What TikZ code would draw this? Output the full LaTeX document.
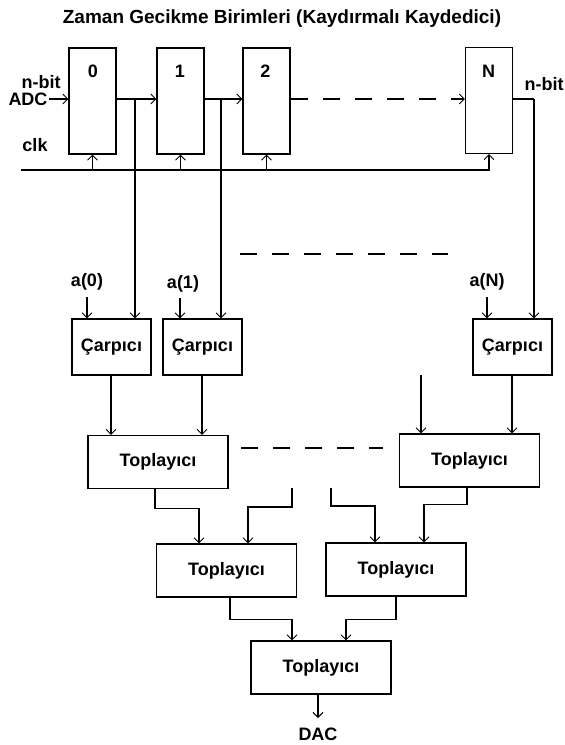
\documentclass[tikz,border=0pt]{standalone}
\usepackage{fontspec}
\setmainfont{Liberation Sans}
\usetikzlibrary{arrows.meta}
\begin{document}
\begin{tikzpicture}[x=1pt,y=-1pt,
  line width=1.2pt,
  arr/.style={-{Straight Barb[length=5pt,width=10pt,line width=0.9pt]}},
  reg/.style={draw,minimum width=47pt,minimum height=106pt,inner sep=0pt},
  mul/.style={draw,minimum width=79pt,minimum height=56pt,inner sep=0pt,font=\fontsize{18}{20}\bfseries\selectfont},
  add/.style={draw,minimum width=140pt,minimum height=53pt,inner sep=0pt,font=\fontsize{18}{20}\bfseries\selectfont},
  lab/.style={inner sep=0pt,anchor=base,font=\fontsize{18}{20}\bfseries\selectfont},
  dsh/.style={dash pattern=on 17pt off 15pt}]
\fill[white] (0,0) rectangle (565,745);
\useasboundingbox (0,0) rectangle (565,745);
% title
\node[lab,font=\fontsize{19}{22}\bfseries\selectfont] (title) at (282,23) {Zaman Gecikme Birimleri (Kaydırmalı Kaydedici)};
% registers
\node[reg] (b0) at (92.5,101) {};
\node[reg] (b1) at (180.5,101) {};
\node[reg] (b2) at (266.5,101) {};
\node[reg] (bN) at (489,100.5) {};
\node[lab] (l0) at (93,77) {0};
\node[lab] (l1) at (180,77) {1};
\node[lab] (l2) at (265.5,77) {2};
\node[lab] (lN) at (488.5,77) {N};
% side labels
\node[lab] (nbit1) at (41,88) {n-bit};
\node[lab] (adc) at (28,105) {ADC};
\node[lab] (clk) at (35,151) {clk};
\node[lab] (nbit2) at (544,90) {n-bit};
% data path
\coordinate (adcend) at (49,99);
\coordinate (tap0) at (135,99);
\coordinate (tap1) at (221,99);
\coordinate (tapN) at (534,99);
\draw[arr] (adcend) -- (b0.west |- adcend);
\draw[arr] (b0.east |- adcend) -- (b1.west |- adcend);
\draw[arr] (b1.east |- adcend) -- (b2.west |- adcend);
\draw[dsh] (b2.east |- adcend) -- ([xshift=-4pt]bN.west |- adcend);
\draw[arr] ([xshift=-8pt]bN.west |- adcend) -- (bN.west |- adcend);
\draw (bN.east |- tapN) -- (tapN);
% clock
\coordinate (clk0) at (21,170);
\draw[arr] (clk0) -| (bN.south);
\draw[arr] (b0.south |- clk0) -- (b0.south);
\draw[arr] (b1.south |- clk0) -- (b1.south);
\draw[arr] (b2.south |- clk0) -- (b2.south);
% multipliers
\node[mul] (m0) at (111.5,347) {Çarpıcı};
\node[mul] (m1) at (202.5,347) {Çarpıcı};
\node[mul] (mN) at (512.5,347) {Çarpıcı};
\draw[arr] (tap0) -- (tap0 |- m0.north);
\draw[arr] (tap1) -- (tap1 |- m1.north);
\draw[arr] (tapN) -- (tapN |- mN.north);
\node[lab] (a0) at (87,286) {a(0)};
\node[lab] (a1) at (183,288) {a(1)};
\node[lab] (aN) at (487,286) {a(N)};
\coordinate (a0s) at (87,297);
\coordinate (a1s) at (180,298);
\coordinate (aNs) at (487,297);
\draw[arr] (a0s) -- (a0s |- m0.north);
\draw[arr] (a1s) -- (a1s |- m1.north);
\draw[arr] (aNs) -- (aNs |- mN.north);
\coordinate (dm1) at (240,254);
\coordinate (dm2) at (448,254);
\draw[dsh] (dm1) -- (dm2);
% adders level 1
\node[add] (t1l) at (158,462) {Toplayıcı};
\node[add] (t1r) at (469.5,460.5) {Toplayıcı};
\draw[arr] ([xshift=-0.5pt]m0.south) -- ([xshift=-0.5pt]m0.south |- t1l.north);
\draw[arr] ([xshift=-0.5pt]m1.south) -- ([xshift=-0.5pt]m1.south |- t1l.north);
\draw[arr] ([xshift=-0.5pt]mN.south) -- ([xshift=-0.5pt]mN.south |- t1r.north);
\coordinate (fr) at (421,375);
\draw[arr] (fr) -- (fr |- t1r.north);
\coordinate (dl1) at (241,448);
\coordinate (dl2) at (383,448);
\draw[dsh] (dl1) -- (dl2);
% adders level 2
\node[add] (t2l) at (226.5,570.5) {Toplayıcı};
\node[add] (t2r) at (396,569.5) {Toplayıcı};
\draw[arr] ([xshift=-3pt]t1l.south) -- ++(0,19) -| ([xshift=-27.5pt]t2l.north);
\coordinate (f2) at (292,488);
\draw[arr] (f2) -- ++(0,19) -| ([xshift=21.5pt]t2l.north);
\coordinate (f3) at (331,488);
\draw[arr] (f3) -- ++(0,18) -| ([xshift=-21pt]t2r.north);
\draw[arr] ([xshift=-2.5pt]t1r.south) -- ++(0,17) -| ([xshift=28pt]t2r.north);
% adder level 3
\node[add] (t3) at (321,667.5) {Toplayıcı};
\draw[arr] ([xshift=3.5pt]t2l.south) -- ++(0,22) -| ([xshift=-29pt]t3.north);
\draw[arr] (t2r.south) -- ++(0,23) -| ([xshift=25pt]t3.north);
\node[lab] (dac) at (318,740) {DAC};
\coordinate (dacin) at (318,718);
\draw[arr] ([xshift=-3pt]t3.south) -- (dacin);
\end{tikzpicture}
\end{document}
